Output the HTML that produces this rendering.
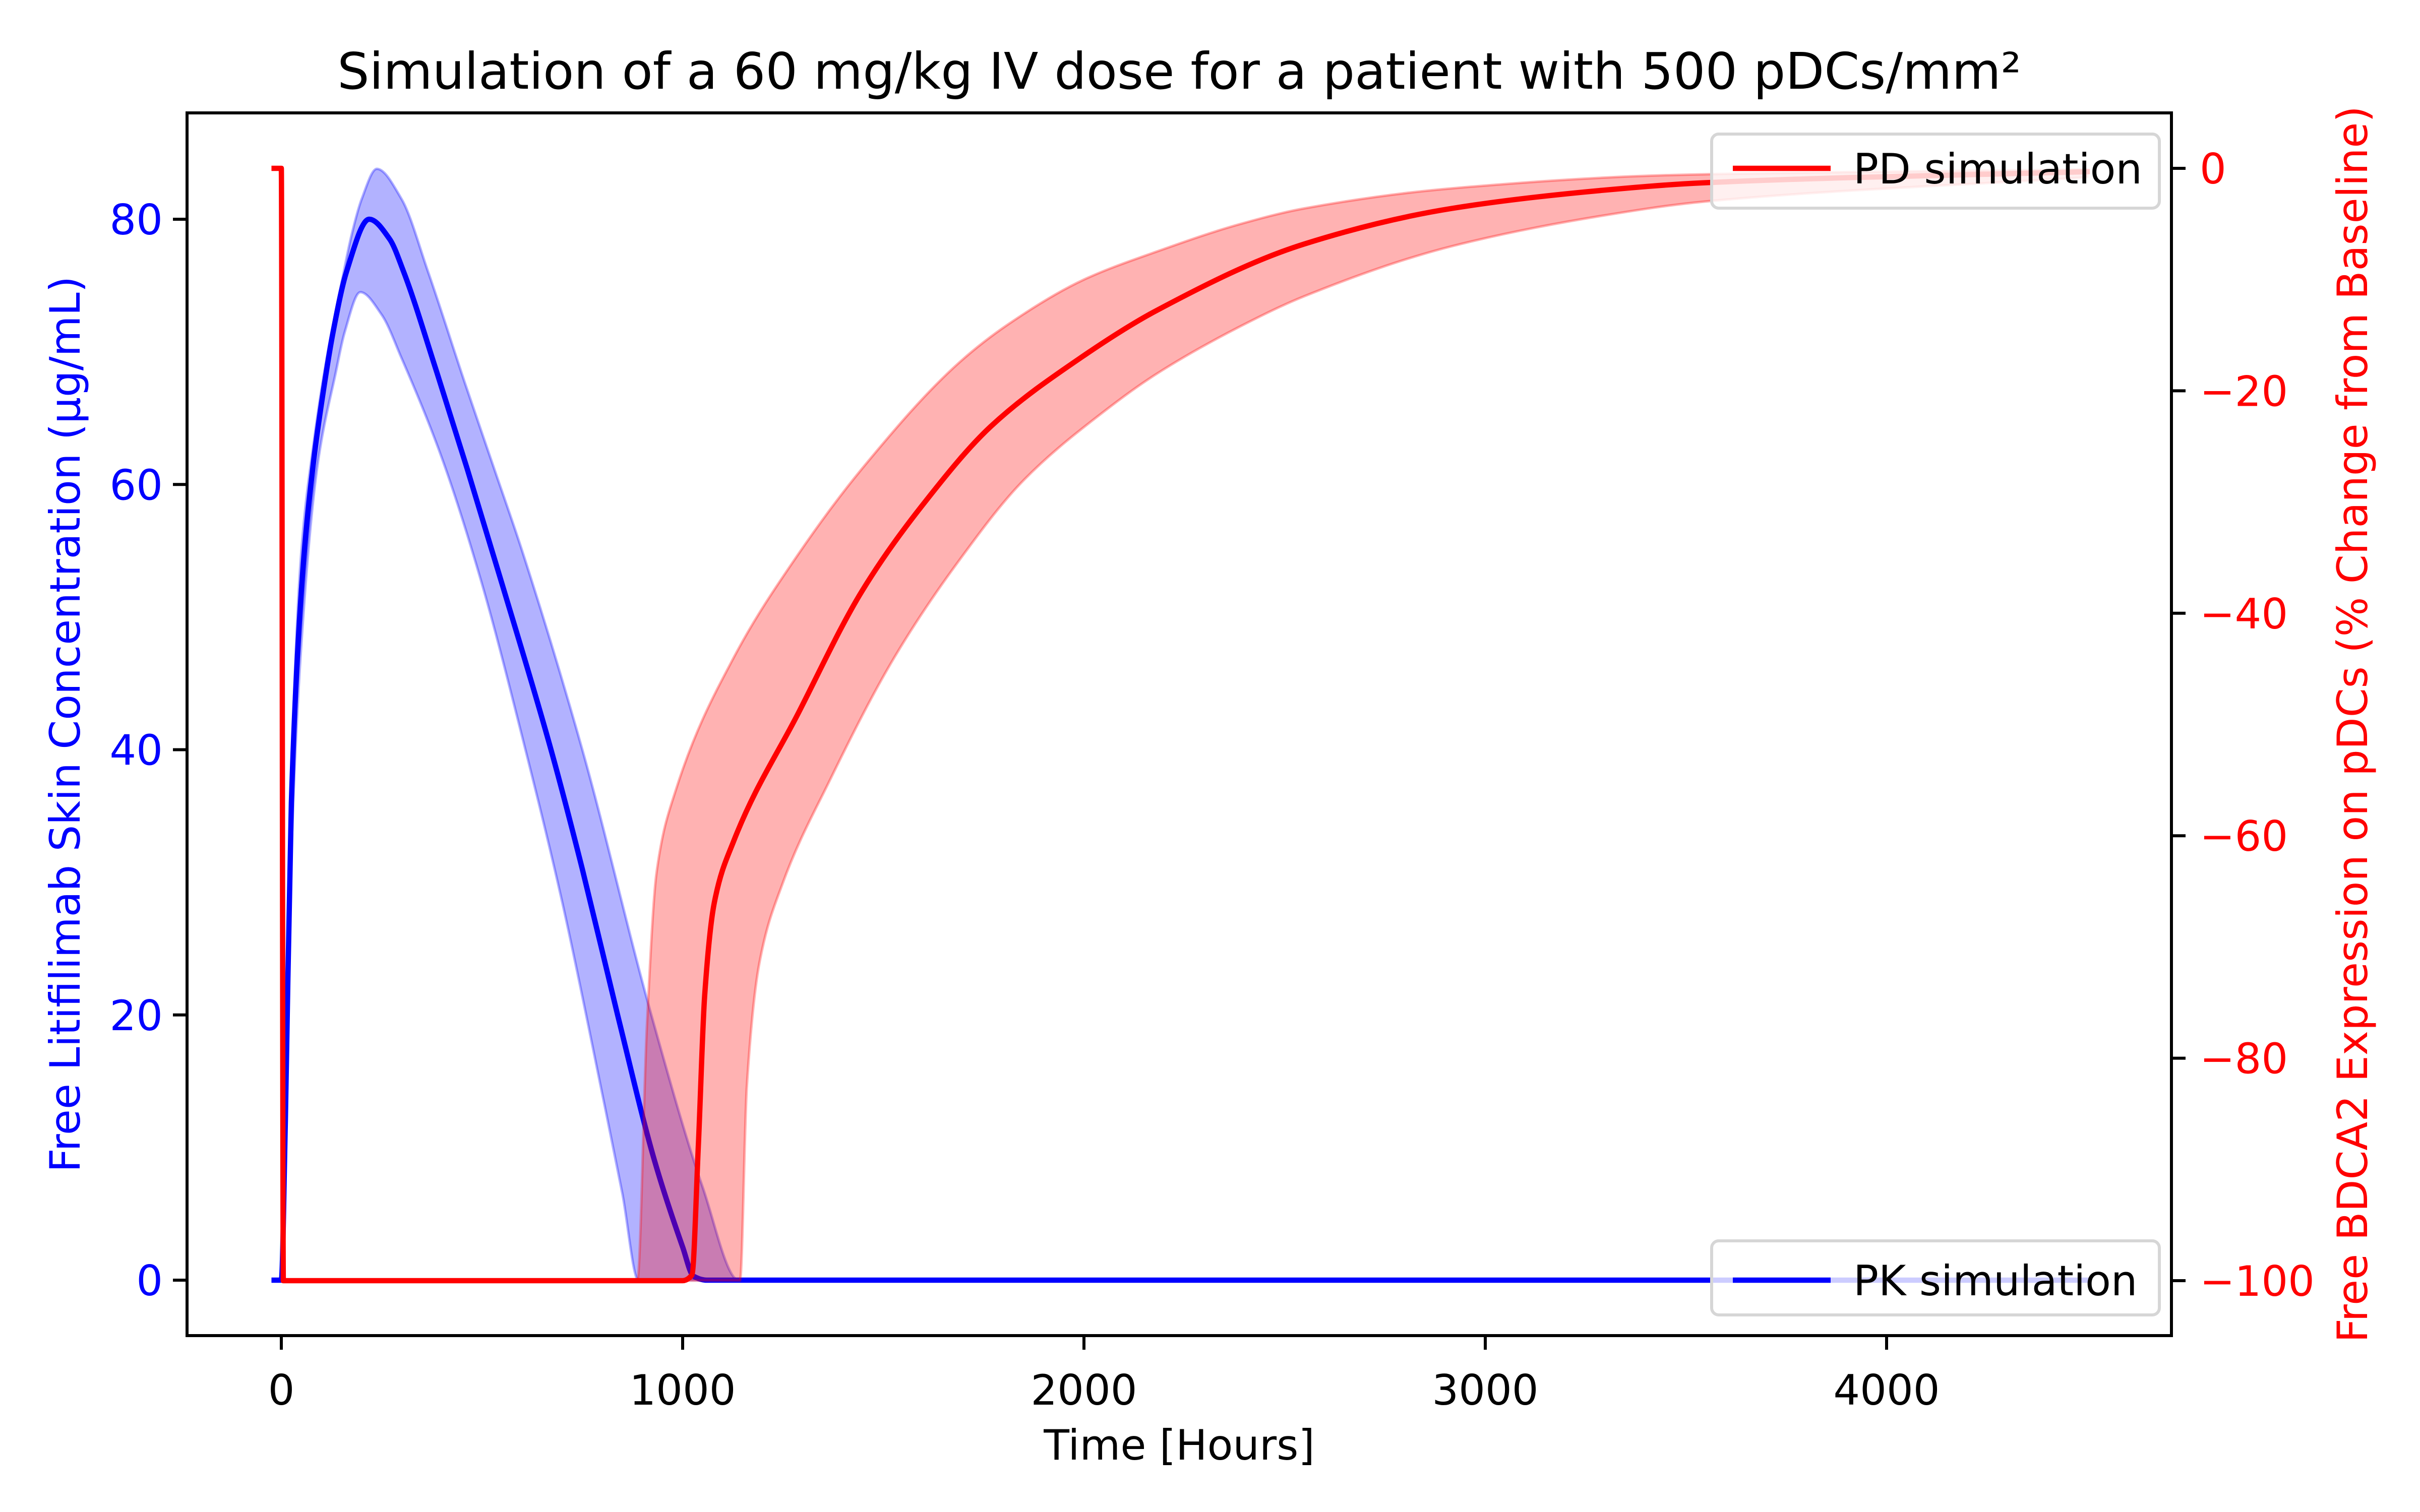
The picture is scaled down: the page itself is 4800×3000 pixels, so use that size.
<!DOCTYPE html>
<html><head><meta charset="utf-8"><style>
html,body{margin:0;padding:0;background:#fff;}
svg{display:block;font-family:"DejaVu Sans","Liberation Sans",sans-serif;}
</style></head><body>
<svg id="chart" width="4800" height="3000" viewBox="0 0 4800 3000" xmlns="http://www.w3.org/2000/svg">
<rect width="4800" height="3000" fill="#fff"/>
<g id="plot"></g>
<g id="axes"></g>
</svg>
<script>
// ---- data ----
const pkMeanT = [-18,0,10,25,50,79,102,129,163,219,270,304,387,463,550,672,750,838,930,1000,1027,1060,4500];
const pkMean  = [0,0,12,36,52,61.4,66.5,71.5,76.1,80,78.5,76.1,68.5,61.2,52.5,40,31,20,9,2.5,0.3,0,0];
const pkHighT = [-18,0,10,25,50,80,110,152,175,200,238,300,365,458,528,600,750,922,1050,1140,1160,4500];
const pkHigh  = [0,0,14,38,55,63,69,75.5,78.8,81.5,83.8,81.5,76.1,67.6,61.4,55,40,20,7,0,0,0];
const pkLowT  = [-18,0,10,25,50,90,136,158,197,250,300,400,500,600,700,800,850,890,910,4500];
const pkLow   = [0,0,10,32,48,61.4,68.5,71.5,74.5,72.8,69.5,62,52.5,41,28.5,14,6.5,0,0,0];
const pdMeanT = [-18,0,5,1000,1023,1039,1055,1079,1127,1288,1447,1608,1768,1993,2180,2549,2917,3285,3543,4500];
const pdMean  = [0,0,-100,-100,-99.5,-88,-74.3,-66,-60.5,-49,-38,-29.8,-23.2,-17,-12.8,-6.8,-3.6,-2,-1.3,-0.3];
const pdHighT = [-18,0,5,887,911,935,982,1127,1288,1447,1688,1812,2000,2180,2390,2549,2917,3470,4500];
const pdHigh  = [0,0,-100,-100,-77,-63.3,-56,-44,-34.7,-27,-17.5,-14,-10,-7.5,-5,-3.6,-1.8,-0.6,-0.1];
const pdLowT  = [-18,0,5,1143,1160,1191,1248,1367,1527,1688,1848,2063,2180,2390,2549,2917,3285,3543,4500];
const pdLow   = [0,0,-100,-100,-82.5,-71.5,-64.4,-55,-44,-35.3,-28.1,-21.5,-18.5,-14.2,-11.5,-7,-4.3,-3,-0.8];
const xTicks = [0,1000,2000,3000,4000];
const yLeftTicks = [0,20,40,60,80];
const yRightTicks = [0,-20,-40,-60,-80,-100];

// ---- axes geometry ----
const L=371, R=4307, T=224, B=2650;
const x = t => 558 + t*0.796;
const yL = v => 2540 - v*(2540-435)/80;
const yR = v => 334 - v*(2541-334)/100;
const NS="http://www.w3.org/2000/svg";
const plot=document.getElementById('plot'), axes=document.getElementById('axes');
function mk(tag, attrs, parent){const e=document.createElementNS(NS,tag);for(const k in attrs)e.setAttribute(k,attrs[k]);parent.appendChild(e);return e;}

function monoPath(pts, moveFirst){
  const n=pts.length; let d='';
  const dx=[],m=[],s=[];
  for(let i=0;i<n-1;i++){dx[i]=pts[i+1][0]-pts[i][0];s[i]=dx[i]===0?0:(pts[i+1][1]-pts[i][1])/dx[i];}
  for(let i=0;i<n;i++){
    if(i===0)m[i]=s[0];else if(i===n-1)m[i]=s[n-2];
    else m[i]=(s[i-1]*s[i]<=0)?0:(3*(dx[i-1]+dx[i]))/((2*dx[i]+dx[i-1])/s[i-1]+(dx[i]+2*dx[i-1])/s[i]);
  }
  d+=(moveFirst?'M':'L')+pts[0][0].toFixed(1)+','+pts[0][1].toFixed(1);
  for(let i=0;i<n-1;i++){
    const h=dx[i];
    if(h<=0.5){d+='L'+pts[i+1][0].toFixed(1)+','+pts[i+1][1].toFixed(1);continue;}
    const c1x=pts[i][0]+h/3,c1y=pts[i][1]+m[i]*h/3,c2x=pts[i+1][0]-h/3,c2y=pts[i+1][1]-m[i+1]*h/3;
    d+='C'+c1x.toFixed(1)+','+c1y.toFixed(1)+' '+c2x.toFixed(1)+','+c2y.toFixed(1)+' '+pts[i+1][0].toFixed(1)+','+pts[i+1][1].toFixed(1);
  }
  return d;
}
function pts(ts,vs,yf){return ts.map((t,i)=>[x(t),yf(vs[i])]);}
function monoPathRev(p){
  const m=p.map(q=>[-q[0],q[1]]).reverse();
  return monoPath(m,false).replace(/(-?\d+\.?\d*),(-?\d+\.?\d*)/g,(a,X,Y)=>(-parseFloat(X)).toFixed(1)+','+Y);
}

const defs=mk('defs',{},plot);
const cp=mk('clipPath',{id:'clip'},defs);
mk('rect',{x:L,y:T,width:R-L,height:B-T},cp);
const g=mk('g',{'clip-path':'url(#clip)'},plot);

function band(hT,hV,lT,lV,yf,fill,stroke,name){
  const d=monoPath(pts(hT,hV,yf),true)+monoPathRev(pts(lT,lV,yf))+'Z';
  const e=mk('path',{d:d,fill:fill,stroke:stroke,'stroke-width':5,'stroke-linejoin':'round'},g);
  
  
}
function line(ts,vs,yf,color,name){
  const e=mk('path',{d:monoPath(pts(ts,vs,yf),true),fill:'none',stroke:color,'stroke-width':10.5,'stroke-linejoin':'round','stroke-linecap':'square'},g);
  
  
}
band(pkHighT,pkHigh,pkLowT,pkLow,yL,'rgba(0,0,255,0.3)','rgba(0,0,255,0.3)','pk-confidence-band');
line(pkMeanT,pkMean,yL,'#0000ff','pk-simulation-line');
band(pdHighT,pdHigh,pdLowT,pdLow,yR,'rgba(255,0,0,0.3)','rgba(255,0,0,0.3)','pd-confidence-band');
line(pdMeanT,pdMean,yR,'#ff0000','pd-simulation-line');

let e=mk('rect',{x:L,y:T,width:R-L,height:B-T,fill:'none',stroke:'#000','stroke-width':6},axes);



const FS=83, TL=28;
xTicks.forEach(v=>{
  const t=mk('line',{x1:x(v),x2:x(v),y1:B,y2:B+TL,stroke:'#000','stroke-width':6},axes);
  
  
  const l=mk('text',{x:x(v),y:2787,'font-size':FS,'text-anchor':'middle',fill:'#000'},axes);
  l.textContent=v;
  
  
});
yLeftTicks.forEach(v=>{
  const t=mk('line',{x1:L-TL,x2:L,y1:yL(v),y2:yL(v),stroke:'#000','stroke-width':6},axes);
  
  
  const l=mk('text',{x:L-48,y:yL(v)+30,'font-size':FS,'text-anchor':'end',fill:'#0000ff'},axes);
  l.textContent=v;
  
  
});
yRightTicks.forEach(v=>{
  const t=mk('line',{x1:R,x2:R+TL,y1:yR(v),y2:yR(v),stroke:'#000','stroke-width':6},axes);
  
  
  const l=mk('text',{x:R+56,y:yR(v)+30,'font-size':FS,'text-anchor':'start',fill:'#ff0000'},axes);
  l.textContent=v<0?'\u2212'+Math.abs(v):v;
  
  
});

let tt=mk('text',{x:(L+R)/2,y:176,'font-size':100,'text-anchor':'middle',fill:'#000'},axes);
tt.textContent='Simulation of a 60 mg/kg IV dose for a patient with 500 pDCs/mm\u00b2';


tt=mk('text',{x:(L+R)/2,y:2896,'font-size':FS,'text-anchor':'middle',fill:'#000'},axes);
tt.textContent='Time [Hours]';


tt=mk('text',{x:0,y:0,'font-size':FS,'text-anchor':'middle',fill:'#0000ff',transform:'translate(158,1437) rotate(-90)'},axes);
tt.textContent='Free Litifilimab Skin Concentration (\u00b5g/mL)';


tt=mk('text',{x:0,y:0,'font-size':FS,'text-anchor':'middle',fill:'#ff0000',transform:'translate(4695,1437) rotate(-90)'},axes);
tt.textContent='Free BDCA2 Expression on pDCs (% Change from Baseline)';



function legend(name,y0,h,lineY,color,label){
  const lg=mk('g',{},axes);
  
  
  mk('rect',{x:3395,y:y0,width:4283-3395,height:h,rx:14,fill:'rgba(255,255,255,0.8)',stroke:'#d6d6d6','stroke-width':6},lg);
  mk('line',{x1:3437,x2:3631,y1:lineY,y2:lineY,stroke:color,'stroke-width':10.5},lg);
  const tx=mk('text',{x:3676,y:lineY+30,'font-size':FS,fill:'#000'},lg);
  tx.textContent=label;
}
legend('pd-legend',266,147,334,'#ff0000','PD simulation');
legend('pk-legend',2462,147,2540,'#0000ff','PK simulation');
</script>
</body></html>
